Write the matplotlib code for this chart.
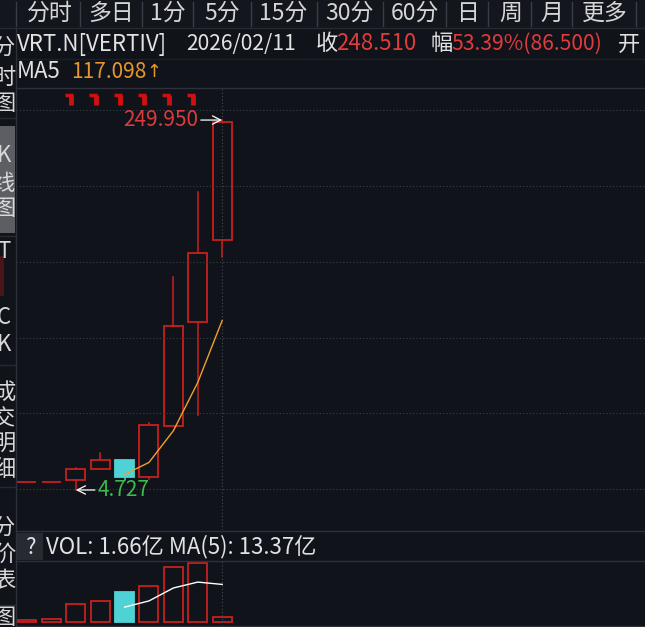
import matplotlib
matplotlib.use('Agg')
import matplotlib.pyplot as plt
from matplotlib.patches import Rectangle
from matplotlib.lines import Line2D
import numpy as np

plt.rcParams['font.family'] = ['Noto Sans CJK SC', 'DejaVu Sans']

# === datos ===
opens  = [10.0, 9.8, 11.3, 18.6, 24.6, 13.3, 47.1, 116.1, 170.4]
highs  = [10.0, 10.3, 19.6, 29.2, 24.6, 49.1, 145.9, 202.2, 249.95]
lows   = [10.0, 9.8, 4.727, 18.6, 11.3, 12.0, 47.1, 54.4, 159.1]
closes = [10.0, 10.3, 18.6, 24.6, 13.3, 47.8, 113.4, 162.01, 248.51]
ma5 = [np.nan, np.nan, np.nan, np.nan, 15.0, 23.0, 44.0, 76.0, 117.098]

volumes = [0.7, 1.0, 6.5, 7.5, 10.5, 12.8, 19.5, 21.0, 1.66]   # 亿
vol_ma5 = [np.nan, np.nan, np.nan, np.nan, 5.3, 7.5, 12.1, 14.2, 13.37]

marker_idx = [2, 3, 4, 5, 6, 7]
grid_levels = [5.4, 55.6, 105.8, 156.0, 206.2, 256.4]

tabs = ['分时', '多日', '1分', '5分', '15分', '30分', '60分', '日', '周', '月', '更多']
tab_x = [50, 111, 168, 222, 283, 349, 415, 468, 511, 552, 605]
tab_sep = [16, 80, 142, 193, 251, 317, 383, 446, 488, 531, 572, 636]

side_items = [('分', 47), ('时', 77), ('图', 103), ('K', 156), ('线', 183), ('图', 209),
              ('T', 252), ('C', 318), ('K', 344), ('成', 393), ('交', 419), ('明', 444),
              ('细', 469), ('分', 527), ('价', 554), ('表', 581), ('图', 618)]

# === colores ===
BG = '#10131a'
RED = '#c8201e'
CYAN = '#4fd2d4'
LINE = '#2e3139'
GRID = '#3b3f48'
TXT = '#e2e2e2'
TRED = '#e23b3b'

W, H = 645, 627
fig = plt.figure(figsize=(W / 100, H / 100), dpi=100, facecolor=BG)


def fx(x):
    return x / W


def fy(y):
    return 1 - y / H


def ftext(x, y, s, **kw):
    kw.setdefault('color', TXT)
    kw.setdefault('fontsize', 16)
    kw.setdefault('va', 'center')
    fig.text(fx(x), fy(y), s, **kw)


def hline(y, x0=16, x1=W, color=LINE, lw=1):
    fig.add_artist(Line2D([fx(x0), fx(x1)], [fy(y), fy(y)], color=color, lw=lw))


def vline(x, y0, y1, color=LINE, lw=1):
    fig.add_artist(Line2D([fx(x), fx(x)], [fy(y0), fy(y1)], color=color, lw=lw))


# === barra superior ===
fig.add_artist(Rectangle((0, fy(28)), 1, 1 - fy(28), transform=fig.transFigure,
                         facecolor='#13161d', edgecolor='none'))
for t, x in zip(tabs, tab_x):
    ftext(x, 13, t, ha='center', fontsize=16.5, color='#d6d6d6')
for x in tab_sep:
    vline(x, 2, 26, color='#3a3d45')
hline(28, 0, W, color='#262930')

# cabecera
ftext(17, 44, 'VRT.N[VERTIV]')
ftext(186, 44, '2026/02/11', fontsize=15.2)
ftext(316, 44, '收')
ftext(336, 44, '248.510', color=TRED)
ftext(431, 44, '幅')
ftext(451, 44, '53.39%(86.500)', color=TRED, fontsize=15.2)
ftext(618, 44, '开')
hline(59, 16, W, color='#1c1f26')

ftext(17, 72, 'MA5')
ftext(71, 72, '117.098', color='#e8962e', fontsize=15)
ftext(146.5, 72, '↑', color='#e8962e', fontsize=13, family='DejaVu Sans')
hline(88)

# === barra lateral ===
fig.add_artist(Rectangle((0, fy(233)), fx(15), fy(126) - fy(233), transform=fig.transFigure,
                         facecolor='#5c5e64', edgecolor='none'))
fig.add_artist(Rectangle((0, fy(296)), fx(4), fy(256) - fy(296), transform=fig.transFigure,
                         facecolor='#4a1418', edgecolor='none'))
for ch, y in side_items:
    ftext(4, y, ch, ha='center', fontsize=16, color='#d8d8d8')
for y in [118, 236, 365, 487, 605]:
    hline(y, 0, 15, color='#262930')
vline(16, 28, H, color=LINE)

# === gráfico de velas ===
ax = fig.add_axes([fx(16), fy(530), fx(W) - fx(16), fy(88) - fy(530)])
ax.set_facecolor(BG)
ax.set_xlim(-0.45, 25.33)
ax.set_ylim(-21.8, 271.2)
ax.axis('off')

for g in grid_levels:
    ax.axhline(g, color=GRID, lw=0.8, ls=(0, (1, 2)))
ax.axvline(8, color='#4a4d55', lw=0.8, ls=(0, (1, 2)))

bw = 0.78
for i, (o, h, l, c) in enumerate(zip(opens, highs, lows, closes)):
    up = c >= o
    col = RED if up else CYAN
    top, bot = max(o, c), min(o, c)
    if h > top:
        ax.plot([i, i], [top, h], color=col, lw=1.1)
    if l < bot:
        ax.plot([i, i], [l, bot], color=col, lw=1.1)
    ax.add_patch(Rectangle((i - bw / 2, bot), bw, top - bot,
                           facecolor=BG if up else CYAN, edgecolor=col, lw=1.3))

ax.plot(range(len(ma5)), ma5, color='#f0a030', lw=1)

# marcas rojas arriba
for i in marker_idx:
    xm = i - 0.29
    ax.plot([xm - 0.16, xm + 0.17], [266.3, 266.3], color='#d01010', lw=2.5,
            solid_capstyle='butt')
    ax.plot([xm + 0.1, xm + 0.1], [266.3, 259.9], color='#d01010', lw=3.5,
            solid_capstyle='butt')

# máximo y mínimo
imax = int(np.argmax(highs))
imin = int(np.argmin(lows))
ax.annotate(f'{highs[imax]:.3f}', xy=(imax, highs[imax]), xytext=(imax - 0.99, highs[imax]),
            ha='right', va='center', color='#dc3a3c', fontsize=15,
            arrowprops=dict(arrowstyle='->', color='white', lw=0.9, shrinkA=0, shrinkB=0))
ax.annotate(f'{lows[imin]:.3f}', xy=(imin, lows[imin]), xytext=(imin + 0.9, lows[imin]),
            ha='left', va='center', color='#3dbb4c', fontsize=15,
            arrowprops=dict(arrowstyle='->', color='white', lw=0.9, shrinkA=0, shrinkB=0))

# === volumen ===
hline(531)
fig.add_artist(Rectangle((fx(17), fy(560)), fx(43) - fx(17), fy(533) - fy(560),
                         transform=fig.transFigure, facecolor='#272a31', edgecolor='none'))
ftext(30, 547, '?', ha='center')
ftext(46, 547, 'VOL: 1.66亿 MA(5): 13.37亿')
hline(561)
hline(626)

axv = fig.add_axes([fx(16), fy(626), fx(W) - fx(16), fy(561) - fy(626)])
axv.set_facecolor(BG)
axv.set_xlim(-0.45, 25.33)
axv.set_ylim(-1.42, 21.7)
axv.axis('off')
axv.axvline(8, color='#4a4d55', lw=0.8, ls=(0, (1, 2)))
for i, v in enumerate(volumes):
    up = closes[i] >= opens[i]
    col = RED if up else CYAN
    axv.add_patch(Rectangle((i - bw / 2, 0), bw, v, facecolor=BG if up else CYAN,
                            edgecolor=col, lw=1.3))
axv.plot(range(len(vol_ma5)), vol_ma5, color='white', lw=1)

fig.savefig('out.png', dpi=100, facecolor=BG)
